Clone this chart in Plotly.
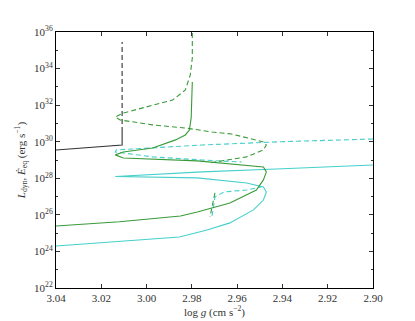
import plotly.graph_objects as go

# log g (cm s^-2) and log10 luminosity (erg s^-1)
black_solid_g = [3.04, 3.0108, 3.0108]
black_solid_L = [29.55, 29.82, 30.53]
black_dash_g = [3.0108, 3.0108]
black_dash_L = [30.53, 35.45]

green_solid_g = [3.04, 3.012, 2.985, 2.9776, 2.9632, 2.9515, 2.9484, 2.9471, 2.9484,
                 2.9776, 3.0103, 3.0138, 3.0103, 2.9973, 2.9872, 2.9829, 2.9811,
                 2.9803, 2.9798]
green_solid_L = [25.39, 25.62, 25.94, 26.16, 26.65, 27.36, 27.91, 28.35, 28.62,
                 28.95, 29.11, 29.28, 29.44, 29.66, 30.10, 30.37, 30.64,
                 31.30, 33.27]

green_dash_g = [2.9798, 2.9798, 2.9807, 2.9829, 2.9885, 2.9973, 3.0103, 3.0138,
                3.0117, 2.9973, 2.9829, 2.9711, 2.9624, 2.9484, 2.9471, 2.9484,
                2.9558, 2.9646, 2.9720, None, 2.9698, 2.9711, 2.9720]
green_dash_L = [35.95, 34.58, 33.65, 32.83, 32.28, 32.01, 31.57, 31.35,
                31.19, 30.92, 30.75, 30.53, 30.42, 29.99, 29.82, 29.55,
                29.17, 29.00, 28.84, None, 27.20, 26.43, 25.89]

cyan_solid_g = [3.04, 2.9855, 2.9733, 2.9632, 2.9528, 2.9484, 2.9471, 2.9484,
                2.9558, 2.9776, 3.0138, 2.9755, 2.9427, 2.90]
cyan_solid_L = [24.30, 24.79, 25.17, 25.56, 26.27, 26.81, 27.25, 27.53,
                27.74, 28.02, 28.10, 28.35, 28.51, 28.73]

cyan_dash_g = [2.90, 2.9427, 2.9755, 3.0134, 3.0138, 2.9973, 2.9755, 2.9580,
               None, 2.9711, 2.9698, 2.9659, 2.9558, 2.9493]
cyan_dash_L = [30.15, 29.99, 29.82, 29.55, 29.44, 29.17, 29.00, 28.89,
               None, 25.94, 26.98, 27.25, 27.36, 27.53]

x_ticks = [3.04, 3.02, 3.00, 2.98, 2.96, 2.94, 2.92, 2.90]
y_ticks = [22, 24, 26, 28, 30, 32, 34, 36]

GREEN = "#3a9a3a"
CYAN = "#45d0cc"
BLACK = "#333333"
FONT = "Liberation Serif"

fig = go.Figure()


def add_line(x, y, color, dash):
    fig.add_trace(go.Scatter(
        x=x, y=y, mode="lines",
        line=dict(color=color, width=1.1, dash=dash),
        connectgaps=False, showlegend=False, hoverinfo="skip",
    ))


add_line(black_solid_g, black_solid_L, BLACK, "solid")
add_line(black_dash_g, black_dash_L, BLACK, "5px,3px")
add_line(cyan_solid_g, cyan_solid_L, CYAN, "solid")
add_line(cyan_dash_g, cyan_dash_L, CYAN, "5px,3px")
add_line(green_solid_g, green_solid_L, GREEN, "solid")
add_line(green_dash_g, green_dash_L, GREEN, "5px,3px")

axis_common = dict(
    showgrid=False, zeroline=False,
    showline=True, linecolor="black", linewidth=1, mirror="ticks",
    ticks="inside", ticklen=4, tickcolor="#333333", tickwidth=1,
    tickfont=dict(family=FONT, size=11, color="#333333"),
)

fig.update_xaxes(
    range=[3.04, 2.90],
    tickvals=x_ticks, ticktext=[f"{v:.2f}" for v in x_ticks],
    title=dict(text="log <i>g</i> (cm s<sup>−2</sup>)", standoff=4,
               font=dict(family=FONT, size=11, color="#333333")),
    **axis_common,
)
fig.update_yaxes(
    range=[22, 36],
    tickvals=y_ticks, ticktext=[f"10<sup>{v}</sup>" for v in y_ticks],
    minor=dict(ticks="inside", ticklen=2, dtick=1, tick0=22, tickcolor="#333333"),
    title=dict(text="<i>L</i><sub>dyn</sub>, <i>Ė</i><sub>eq</sub> (erg s<sup>−1</sup>)",
               standoff=6, font=dict(family=FONT, size=11, color="#333333")),
    **axis_common,
)

# the page body adds an 8px offset, so margins are shifted to compensate
fig.update_layout(
    width=415, height=321,
    margin=dict(l=44, r=50, t=24, b=41),
    paper_bgcolor="white", plot_bgcolor="white",
    font=dict(family=FONT, color="#333333"),
)

fig.write_html("out.html")
